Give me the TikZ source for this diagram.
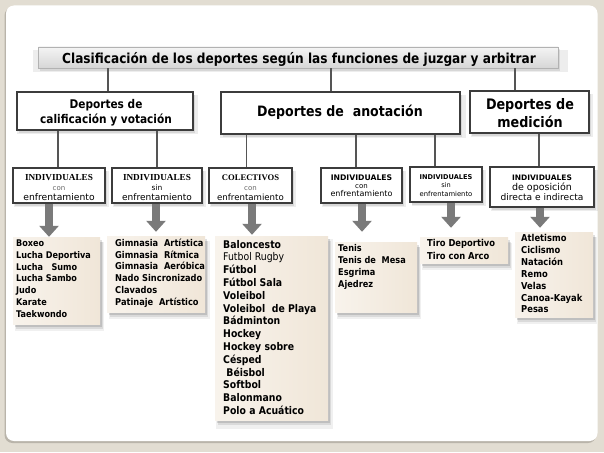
\documentclass[tikz,border=0pt]{standalone}
\usepackage{fontspec}
\setmainfont{DejaVu Sans}
\newfontfamily\tf[FakeStretch=0.88]{DejaVu Sans}
\newfontfamily\tfn{DejaVu Sans}
\newfontfamily\ser{Liberation Serif}
\usetikzlibrary{shadows,arrows.meta,calc}
\definecolor{bgc}{HTML}{E2DDD2}
\definecolor{panelsh}{HTML}{B9B4AA}
\definecolor{boxline}{HTML}{3C3C3C}
\definecolor{connc}{HTML}{555555}
\definecolor{arrc}{HTML}{7A7A7A}
\definecolor{beigeL}{HTML}{F8F3EC}
\definecolor{beigeR}{HTML}{F0E6D8}
\definecolor{titlelt}{HTML}{F4F4F4}
\definecolor{titledk}{HTML}{D6D6D6}
\definecolor{grayt}{HTML}{666666}
\newcommand\fs[2]{\fontsize{#1}{#2}\selectfont}
\tikzset{
  conn/.style={draw=connc, line width=1.5pt},
  shad/.style={drop shadow={shadow xshift=2.5pt,shadow yshift=-3.5pt,opacity=.07,fill=black,shadow scale=1.03},
               drop shadow={shadow xshift=1.5pt,shadow yshift=-2.5pt,opacity=.09,fill=black},
               drop shadow={shadow xshift=1pt,shadow yshift=-1pt,opacity=.1,fill=black}},
  lshad/.style={drop shadow={shadow xshift=3pt,shadow yshift=-6pt,opacity=.06,fill=black,shadow scale=1.03},
               drop shadow={shadow xshift=2.5pt,shadow yshift=-4.5pt,opacity=.09,fill=black},
               drop shadow={shadow xshift=1.5pt,shadow yshift=-2.5pt,opacity=.12,fill=black}},
  lvtwo/.style={draw=boxline, line width=1.4pt, fill=white, inner sep=0, shad},
  lvthree/.style={draw=boxline, line width=1.2pt, fill=white, inner sep=0, shad},
  listbox/.style={left color=beigeL, right color=beigeR, draw=none, inner sep=0, lshad},
  titlebox/.style={top color=titlelt, bottom color=titledk, draw=gray!60, line width=.6pt, inner sep=0, shad},
  arr/.style={draw=arrc, line width=8pt, -{Triangle[width=19pt,length=11pt]}},
  txt/.style={inner sep=0, anchor=base},
  item/.style={inner sep=0, anchor=base west},
}
\begin{document}
\begin{tikzpicture}[x=1pt,y=-1pt]
\useasboundingbox (0,0) rectangle (604,452);
\fill[bgc] (0,0) rectangle (604,452);
\fill[panelsh, rounded corners=8pt] (4.5,7.5) rectangle (596,443);
\fill[white, rounded corners=8pt] (6,5.5) rectangle (597.5,441);

% title
\node[titlebox, minimum width=519.5pt, minimum height=21pt] (T) at (298.25,57.5) {};
\node[txt, font=\tf\bfseries\fs{13.8}{16}] (tt) at (299,63.5) {Clasificación de los deportes según las funciones de juzgar y arbitrar};

% level 2
\node[lvtwo, minimum width=176pt, minimum height=38pt] (A) at (105,111) {};
\node[lvtwo, minimum width=239pt, minimum height=42pt] (B) at (340.5,113) {};
\node[lvtwo, minimum width=119pt, minimum height=42pt] (C) at (529.5,112) {};
\node[txt, font=\tf\bfseries\fs{12}{14}] (ta1) at (106,108.5) {Deportes de};
\node[txt, font=\tf\bfseries\fs{12}{14}] (ta2) at (106,123.5) {calificación y votación};
\node[txt, font=\tf\bfseries\fs{14.3}{16}] (tb) at (340,116.5) {Deportes de\ \ anotación};
\node[txt, font=\tf\bfseries\fs{14.5}{16}] (tc1) at (530,109) {Deportes de};
\node[txt, font=\tf\bfseries\fs{14.5}{16}] (tc2) at (530,127) {medición};

% level 3
\node[lvthree, minimum width=92pt, minimum height=35pt] (b1) at (59,185.5) {};
\node[lvthree, minimum width=90pt, minimum height=35pt] (b2) at (157,185.5) {};
\node[lvthree, minimum width=83pt, minimum height=35pt] (b3) at (250.5,185.5) {};
\node[lvthree, minimum width=81pt, minimum height=35pt] (b4) at (361.5,185.5) {};
\node[lvthree, minimum width=72pt, minimum height=35pt] (b5) at (446,184.5) {};
\node[lvthree, minimum width=104pt, minimum height=40pt] (b6) at (542,187) {};

\node[txt, font=\ser\bfseries\fs{9.2}{11}] (t1a) at (59,180.3) {INDIVIDUALES};
\node[txt, font=\tfn\fs{7}{8}, text=grayt] (t1b) at (59,190.5) {con};
\node[txt, font=\tfn\fs{9.2}{11}] (t1c) at (59,200.5) {enfrentamiento};
\node[txt, font=\ser\bfseries\fs{9.2}{11}] (t2a) at (157,180.3) {INDIVIDUALES};
\node[txt, font=\tfn\fs{7.5}{8}] (t2b) at (157,190.5) {sin};
\node[txt, font=\tfn\fs{9}{11}] (t2c) at (157,200.5) {enfrentamiento};
\node[txt, font=\ser\bfseries\fs{8.6}{11}] (t3a) at (250.5,180.3) {COLECTIVOS};
\node[txt, font=\tfn\fs{7}{8}, text=grayt] (t3b) at (250.5,190.5) {con};
\node[txt, font=\tfn\fs{8.6}{11}] (t3c) at (250.5,200.5) {enfrentamiento};
\node[txt, font=\tfn\bfseries\fs{7.7}{9}] (t4a) at (361.5,180) {INDIVIDUALES};
\node[txt, font=\tfn\fs{7}{8}] (t4b) at (361.5,188) {con};
\node[txt, font=\tfn\fs{8}{9}] (t4c) at (361.5,196.5) {enfrentamiento};
\node[txt, font=\tfn\bfseries\fs{6.6}{8}] (t5a) at (446,179.5) {INDIVIDUALES};
\node[txt, font=\tfn\fs{6.6}{8}] (t5b) at (446,187.5) {sin};
\node[txt, font=\tfn\fs{6.8}{8}] (t5c) at (446,196) {enfrentamiento};
\node[txt, font=\tfn\bfseries\fs{7.5}{9}] (t6a) at (542,180) {INDIVIDUALES};
\node[txt, font=\tfn\fs{9.5}{11}] (t6b) at (542,190.5) {de oposición};
\node[txt, font=\tfn\fs{9.1}{11}] (t6c) at (542,200.5) {directa e indirecta};

% connectors
\draw[conn] ([xshift=3pt]A.north |- T.south) -- ([xshift=3pt]A.north);
\draw[conn] ([xshift=-9.5pt]B.north |- T.south) -- ([xshift=-9.5pt]B.north);
\draw[conn] ([xshift=-14.5pt]C.north |- T.south) -- ([xshift=-14.5pt]C.north);
\draw[conn] ([xshift=-1pt]b1.north |- A.south) -- ([xshift=-1pt]b1.north);
\draw[conn] (b2.north |- A.south) -- (b2.north);
\draw[conn] ([xshift=-4pt]b3.north |- B.south) -- ([xshift=-4pt]b3.north);
\draw[conn] ([xshift=-5.5pt]b4.north |- B.south) -- ([xshift=-5.5pt]b4.north);
\draw[conn] ([xshift=-11pt]b5.north |- B.south) -- ([xshift=-11pt]b5.north);
\draw[conn] ([xshift=-3pt]b6.north |- C.south) -- ([xshift=-3pt]b6.north);

% list boxes
\node[listbox, minimum width=87pt, minimum height=87pt] (L1) at (56.5,280.5) {};
\node[listbox, minimum width=98pt, minimum height=76pt] (L2) at (156,274) {};
\node[listbox, minimum width=113pt, minimum height=184pt] (L3) at (271.5,328) {};
\node[listbox, minimum width=82pt, minimum height=70pt] (L4) at (376,277) {};
\node[listbox, minimum width=88pt, minimum height=26pt] (L5) at (464,250) {};
\node[listbox, minimum width=78pt, minimum height=85pt] (L6) at (554,274.5) {};

% arrows
\draw[arr] ([xshift=-10pt]b1.south) -- ([xshift=-10pt]b1.south |- L1.north);
\draw[arr, shorten >=4pt] ([xshift=-1pt]b2.south) -- ([xshift=-1pt]b2.south |- L2.north);
\draw[arr, shorten >=1pt] ([xshift=1.5pt]b3.south) -- ([xshift=1.5pt]b3.south |- L3.north);
\draw[arr, shorten >=10pt] ([xshift=0.5pt]b4.south) -- ([xshift=0.5pt]b4.south |- L4.north);
\draw[arr, shorten >=9pt] ([xshift=5pt]b5.south) -- ([xshift=5pt]b5.south |- L5.north);
\draw[arr, shorten >=4pt] ([xshift=-2pt]b6.south) -- ([xshift=-2pt]b6.south |- L6.north);

% list items
\foreach \t [count=\i from 0] in {Boxeo, Lucha Deportiva, Lucha\ \ \ Sumo, Lucha Sambo, Judo, Karate, Taekwondo}
  \node[item, font=\tf\bfseries\fs{9.2}{11}] (la-\i) at (16,246.5+11.8*\i) {\t};
\foreach \t [count=\i from 0] in {Gimnasia\ \ Artística, Gimnasia\ \ Rítmica, Gimnasia\ \ Aeróbica, Nado Sincronizado, Clavados, Patinaje\ \ Artístico}
  \node[item, font=\tf\bfseries\fs{9.4}{11}] (lb-\i) at (115,246.5+11.7*\i) {\t};
\foreach \t [count=\i from 0] in {Baloncesto, {\mdseries Futbol Rugby}, Fútbol, Fútbol Sala, Voleibol, Voleibol\ \ de Playa, Bádminton, Hockey, Hockey sobre, Césped, \ Béisbol, Softbol, Balonmano, Polo a Acuático}
  \node[item, font=\tf\bfseries\fs{10.6}{12}] (lc-\i) at (223,248+12.8*\i) {\t};
\foreach \t [count=\i from 0] in {Tenis, Tenis de\ \ Mesa, Esgrima, Ajedrez}
  \node[item, font=\tf\bfseries\fs{9.3}{11}] (ld-\i) at (338,251.5+12*\i) {\t};
\foreach \t [count=\i from 0] in {Tiro Deportivo, Tiro con Arco}
  \node[item, font=\tf\bfseries\fs{9.5}{11}] (le-\i) at (427,246.5+13*\i) {\t};
\foreach \t [count=\i from 0] in {Atletismo, Ciclismo, Natación, Remo, Velas, Canoa-Kayak, Pesas}
  \node[item, font=\tf\bfseries\fs{9.5}{11}] (lf-\i) at (521,241.5+11.9*\i) {\t};
\end{tikzpicture}
\end{document}
